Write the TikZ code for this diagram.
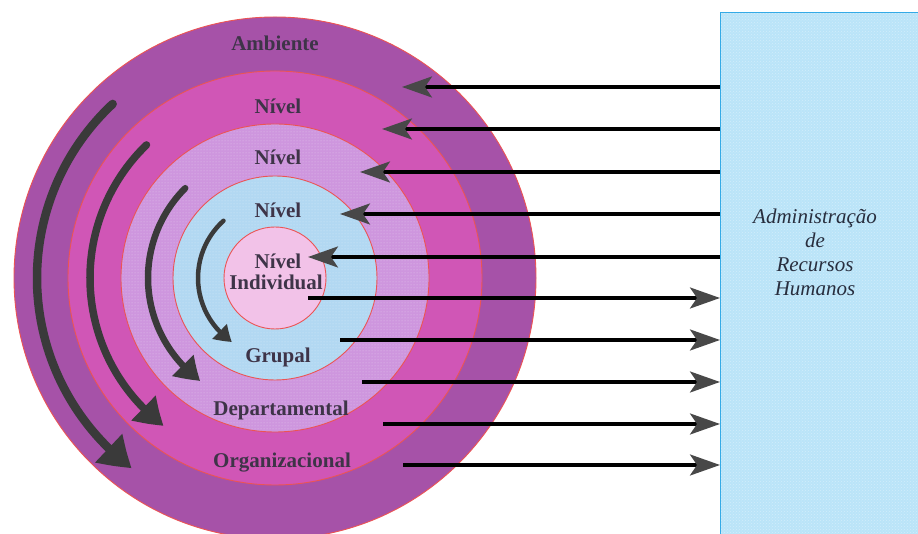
\documentclass[tikz,border=0pt]{standalone}
\usepackage{fontspec}
\setmainfont{Liberation Serif}
\usetikzlibrary{arrows.meta,bending,patterns}

\definecolor{ringA}{RGB}{166,82,168}
\definecolor{ringB}{RGB}{208,86,182}
\definecolor{ringC}{RGB}{206,150,222}
\definecolor{ringD}{RGB}{178,216,242}
\definecolor{ringE}{RGB}{242,194,232}
\definecolor{ringline}{RGB}{236,84,84}
\definecolor{boxfill}{RGB}{186,228,248}
\definecolor{boxline}{RGB}{52,170,230}
\definecolor{headgray}{RGB}{72,72,72}
\definecolor{curvgray}{RGB}{58,58,58}
\definecolor{lbl}{RGB}{62,52,72}
\definecolor{boxtxt}{RGB}{40,46,62}

\tikzset{
  x=1pt, y=1pt,
  ring/.style={draw=ringline, line width=0.9pt},
  grain/.style={pattern=dots, pattern color=white},
  lvl/.style={font=\fontsize{21}{24}\selectfont\bfseries, text=lbl, inner sep=0pt},
  flow/.style={line width=3.2pt, -{Stealth[length=30pt, width=21pt, inset=7pt, color=headgray]}},
  curv/.style={draw=curvgray, line cap=round, -{Triangle[bend, length=#1*3.6pt, width=#1*4.4pt]}, line width=#1 pt},
}

\begin{document}
\begin{tikzpicture}
\useasboundingbox (0,0) rectangle (918,534);
\fill[white] (0,0) rectangle (918,534);

% concentric levels
\coordinate (c) at (275,256);
\filldraw[ring, fill=ringA] (c) circle (261);
\filldraw[ring, fill=ringB] (c) circle (207);
\filldraw[ring, fill=ringC] (c) circle (154);
\fill[grain, opacity=0.45] (c) circle (153);
\filldraw[ring, fill=ringD] (c) circle (102);
\fill[grain, opacity=0.45] (c) circle (101);
\filldraw[ring, fill=ringE] (c) circle (51);

% level labels
\node[lvl] (amb) at (275,491) {Ambiente};
\node[lvl] (n1) at (278,428) {Nível};
\node[lvl] (n2) at (278,377) {Nível};
\node[lvl] (n3) at (278,324) {Nível};
\node[lvl] (n4) at (278,273) {Nível};
\node[lvl] (ind) at (276,252) {Individual};
\node[lvl] (gru) at (278,177) {Grupal};
\node[lvl] (dep) at (281,124) {Departamental};
\node[lvl] (org) at (282,71) {Organizacional};

% curved arrows running down each ring
\draw[curv=8.5] ([shift={(133:238)}]c) arc[start angle=133, end angle=233, radius=238];
\draw[curv=7.5] ([shift={(134:185)}]c) arc[start angle=134, end angle=233, radius=185];
\draw[curv=6.5] ([shift={(135:127)}]c) arc[start angle=135, end angle=234, radius=127];
\draw[curv=4.5] ([shift={(132:77)}]c) arc[start angle=132, end angle=236, radius=77];

% HR management block
\node[draw=boxline, line width=1.2pt, fill=boxfill, anchor=south west,
      minimum width=210pt, minimum height=528pt, inner sep=0pt] (arh) at (720,-7) {};
\fill[pattern=crosshatch dots, pattern color=white, opacity=0.35] (721,-7) rectangle (930,520);
\node[align=center, font=\fontsize{21}{24}\selectfont\itshape, text=boxtxt] (arhtxt) at (815,282)
  {Administração\\de\\Recursos\\Humanos};

% arrow end points inside the rings
\coordinate (i1) at (402,447);
\coordinate (i2) at (382,405);
\coordinate (i3) at (360,362);
\coordinate (i4) at (340,320);
\coordinate (i5) at (308,277);
\coordinate (o1) at (308,236);
\coordinate (o2) at (340,194);
\coordinate (o3) at (362,152);
\coordinate (o4) at (383,110);
\coordinate (o5) at (403,69);

% from the block into the levels
\foreach \p in {i1,i2,i3,i4,i5}
  \draw[flow] (arh.west |- \p) -- (\p);
% from the levels back to the block
\foreach \p in {o1,o2,o3,o4,o5}
  \draw[flow] (\p) -- (arh.west |- \p);
\end{tikzpicture}
\end{document}
